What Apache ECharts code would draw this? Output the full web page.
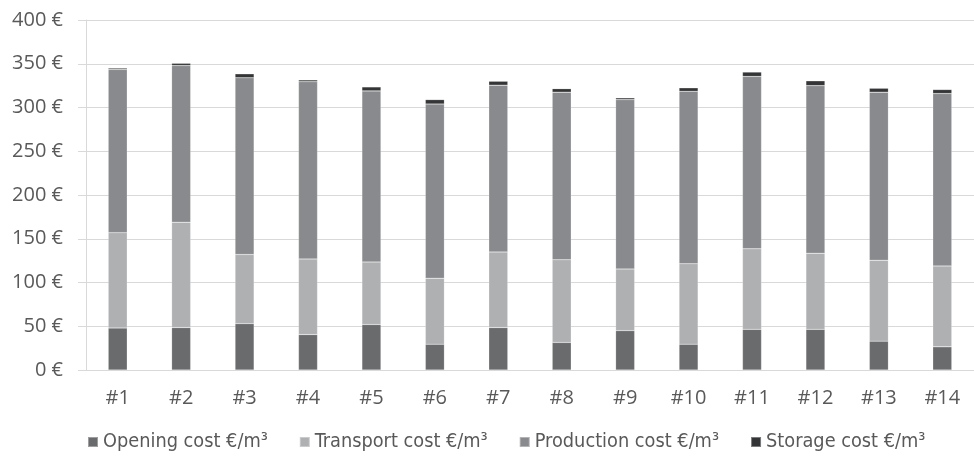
<!DOCTYPE html>
<html>
<head>
<meta charset="utf-8">
<script src="https://cdn.jsdelivr.net/npm/echarts@6/dist/echarts.min.js"></script>
<style>
  html, body { margin: 0; padding: 0; background: #fff; }
  #chart { width: 974px; height: 456px; }
</style>
</head>
<body>
<div id="chart"></div>
<script>
// Sites compared, cost per cubic metre broken down by component
const categories = ['#1', '#2', '#3', '#4', '#5', '#6', '#7', '#8', '#9', '#10', '#11', '#12', '#13', '#14'];
const openingCost    = [48, 48.5, 53, 40.5, 52, 29.5, 48.5, 31.5, 45, 29.5, 46.5, 46.5, 33, 26.5];
const transportCost  = [109, 120.5, 79, 86.5, 71.5, 75.5, 86.5, 94.5, 70.5, 92, 92, 87, 92.5, 92.5];
const productionCost = [186.5, 179, 202, 202.5, 195.5, 199, 190.5, 191.5, 193.5, 197, 197, 191.5, 192, 197];
const storageCost    = [1.5, 2.5, 4.5, 2, 4.5, 5, 4.5, 4, 2, 4, 5, 5.5, 4.5, 4.5];
const yTicks = [0, 50, 100, 150, 200, 250, 300, 350, 400];

const seriesNames = ['Opening cost €/m³', 'Transport cost €/m³', 'Production cost €/m³', 'Storage cost €/m³'];
const seriesData = [openingCost, transportCost, productionCost, storageCost];
const seriesColors = ['#6a6b6d', '#aeb0b2', '#898a8d', '#343536'];

const labelFont = '"Open Sans", sans-serif';
const legendFont = '"DejaVu Sans Condensed", "DejaVu Sans", sans-serif';

function draw() {
  const chart = echarts.init(document.getElementById('chart'), null, { renderer: 'canvas' });
  chart.setOption({
    animation: false,
    backgroundColor: '#ffffff',
    textStyle: { fontFamily: labelFont },
    grid: { left: 86, right: -11, top: 20, bottom: 86, containLabel: false },
    legend: {
      left: 87,
      top: 432,
      padding: 0,
      itemWidth: 10,
      itemHeight: 10,
      itemGap: 31,
      icon: 'rect',
      textStyle: {
        color: '#595959',
        fontSize: 19.75,
        fontFamily: legendFont
      },
      data: seriesNames
    },
    xAxis: {
      type: 'category',
      data: categories,
      axisLine: { show: true, lineStyle: { color: '#d9d9d9', width: 1 } },
      axisTick: { show: false },
      axisLabel: { color: '#595959', fontSize: 20, fontFamily: labelFont, margin: 18 }
    },
    yAxis: {
      type: 'value',
      min: yTicks[0],
      max: yTicks[yTicks.length - 1],
      interval: 50,
      axisLine: { show: true, lineStyle: { color: '#d9d9d9', width: 1 } },
      axisTick: { show: true, length: 8, lineStyle: { color: '#d9d9d9' } },
      splitLine: { show: true, lineStyle: { color: '#d9d9d9', width: 1 } },
      axisLabel: {
        color: '#595959',
        fontSize: 20,
        fontFamily: labelFont,
        margin: 23,
        formatter: v => v + ' €'
      }
    },
    series: seriesNames.map((name, i) => ({
      name: name,
      type: 'bar',
      stack: 'cost',
      data: seriesData[i],
      barWidth: 19,
      itemStyle: { color: seriesColors[i], borderColor: 'rgba(255,255,255,0.35)', borderWidth: 0.5 }
    }))
  });
}

// Make sure the label faces are ready before the canvas paints text
if (document.fonts && document.fonts.load) {
  Promise.all([
    document.fonts.load('20px "Open Sans"', '0123456789 €#'),
    document.fonts.load('20px "DejaVu Sans Condensed"', 'Opening cost €/m³')
  ]).then(draw, draw);
} else {
  draw();
}
</script>
</body>
</html>
